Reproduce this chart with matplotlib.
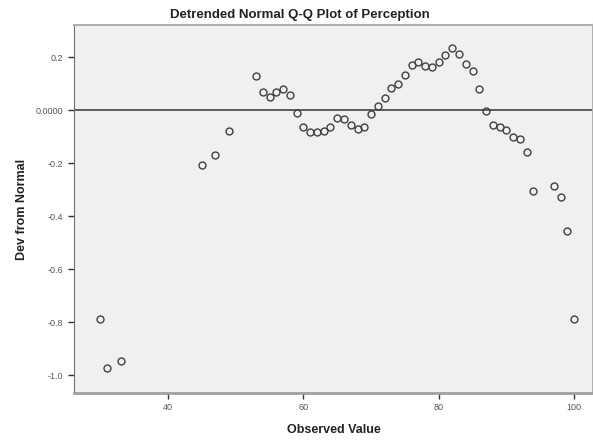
import numpy as np
import matplotlib.pyplot as plt

# observed values and their deviation from normal
observed = [30, 31, 33, 45, 47, 49, 53, 54, 55, 56, 57, 58, 59, 60, 61, 62, 63,
            64, 65, 66, 67, 68, 69, 70, 71, 72, 73, 74, 75, 76, 77, 78, 79, 80,
            81, 82, 83, 84, 85, 86, 87, 88, 89, 90, 91, 92, 93, 94, 97, 98, 99, 100]
deviation = [-0.789, -0.975, -0.946, -0.209, -0.169, -0.079, 0.129, 0.067, 0.049,
             0.069, 0.080, 0.058, -0.013, -0.065, -0.084, -0.082, -0.079, -0.065,
             -0.031, -0.035, -0.058, -0.073, -0.063, -0.015, 0.015, 0.044, 0.082,
             0.097, 0.131, 0.171, 0.181, 0.167, 0.164, 0.180, 0.206, 0.234, 0.211,
             0.172, 0.147, 0.080, -0.005, -0.055, -0.064, -0.075, -0.100, -0.109,
             -0.160, -0.306, -0.286, -0.327, -0.457, -0.790]

x_ticks = [40, 60, 80, 100]
y_ticks = [0.2, 0.0, -0.2, -0.4, -0.6, -0.8, -1.0]
y_tick_labels = ['0.2', '0.0000', '-0.2', '-0.4', '-0.6', '-0.8', '-1.0']

plt.rcParams['font.family'] = ['Liberation Sans', 'DejaVu Sans']

fig = plt.figure(figsize=(5.93, 4.41), dpi=100)
ax = fig.add_axes([0.1248, 0.1088, 0.8752, 0.8345])
ax.set_facecolor('#f0f0f0')

ax.axhline(0, color='#333333', lw=1.1, zorder=1)
ax.plot(observed, deviation, linestyle='none', marker='o', markersize=5,
        markerfacecolor='none', markeredgecolor='#404040', markeredgewidth=1.0, zorder=2)

ax.set_xlim(26.1, 102.8)
ax.set_ylim(-1.068, 0.321)
ax.set_xticks(x_ticks)
ax.set_yticks(y_ticks)
ax.set_yticklabels(y_tick_labels)
ax.tick_params(axis='both', labelsize=6.5, length=4, width=1, colors='#333333',
               labelcolor='#555555', direction='out')

for side in ['top', 'right']:
    ax.spines[side].set_color('#b0b0b0')
    ax.spines[side].set_linewidth(1.5)
ax.spines['left'].set_color('#707070')
ax.spines['bottom'].set_color('#a0a0a0')
ax.spines['bottom'].set_linewidth(2)

fig.text(0.505, 0.965, 'Detrended Normal Q-Q Plot of Perception', ha='center', va='center',
         fontsize=9.5, fontweight='bold', color='#222222')
ax.set_xlabel('Observed Value', fontsize=9, fontweight='bold', color='#222222', labelpad=8)
ax.set_ylabel('Dev from Normal', fontsize=9, fontweight='bold', color='#222222', labelpad=6)

plt.savefig('out.png', dpi=100)
plt.close()
